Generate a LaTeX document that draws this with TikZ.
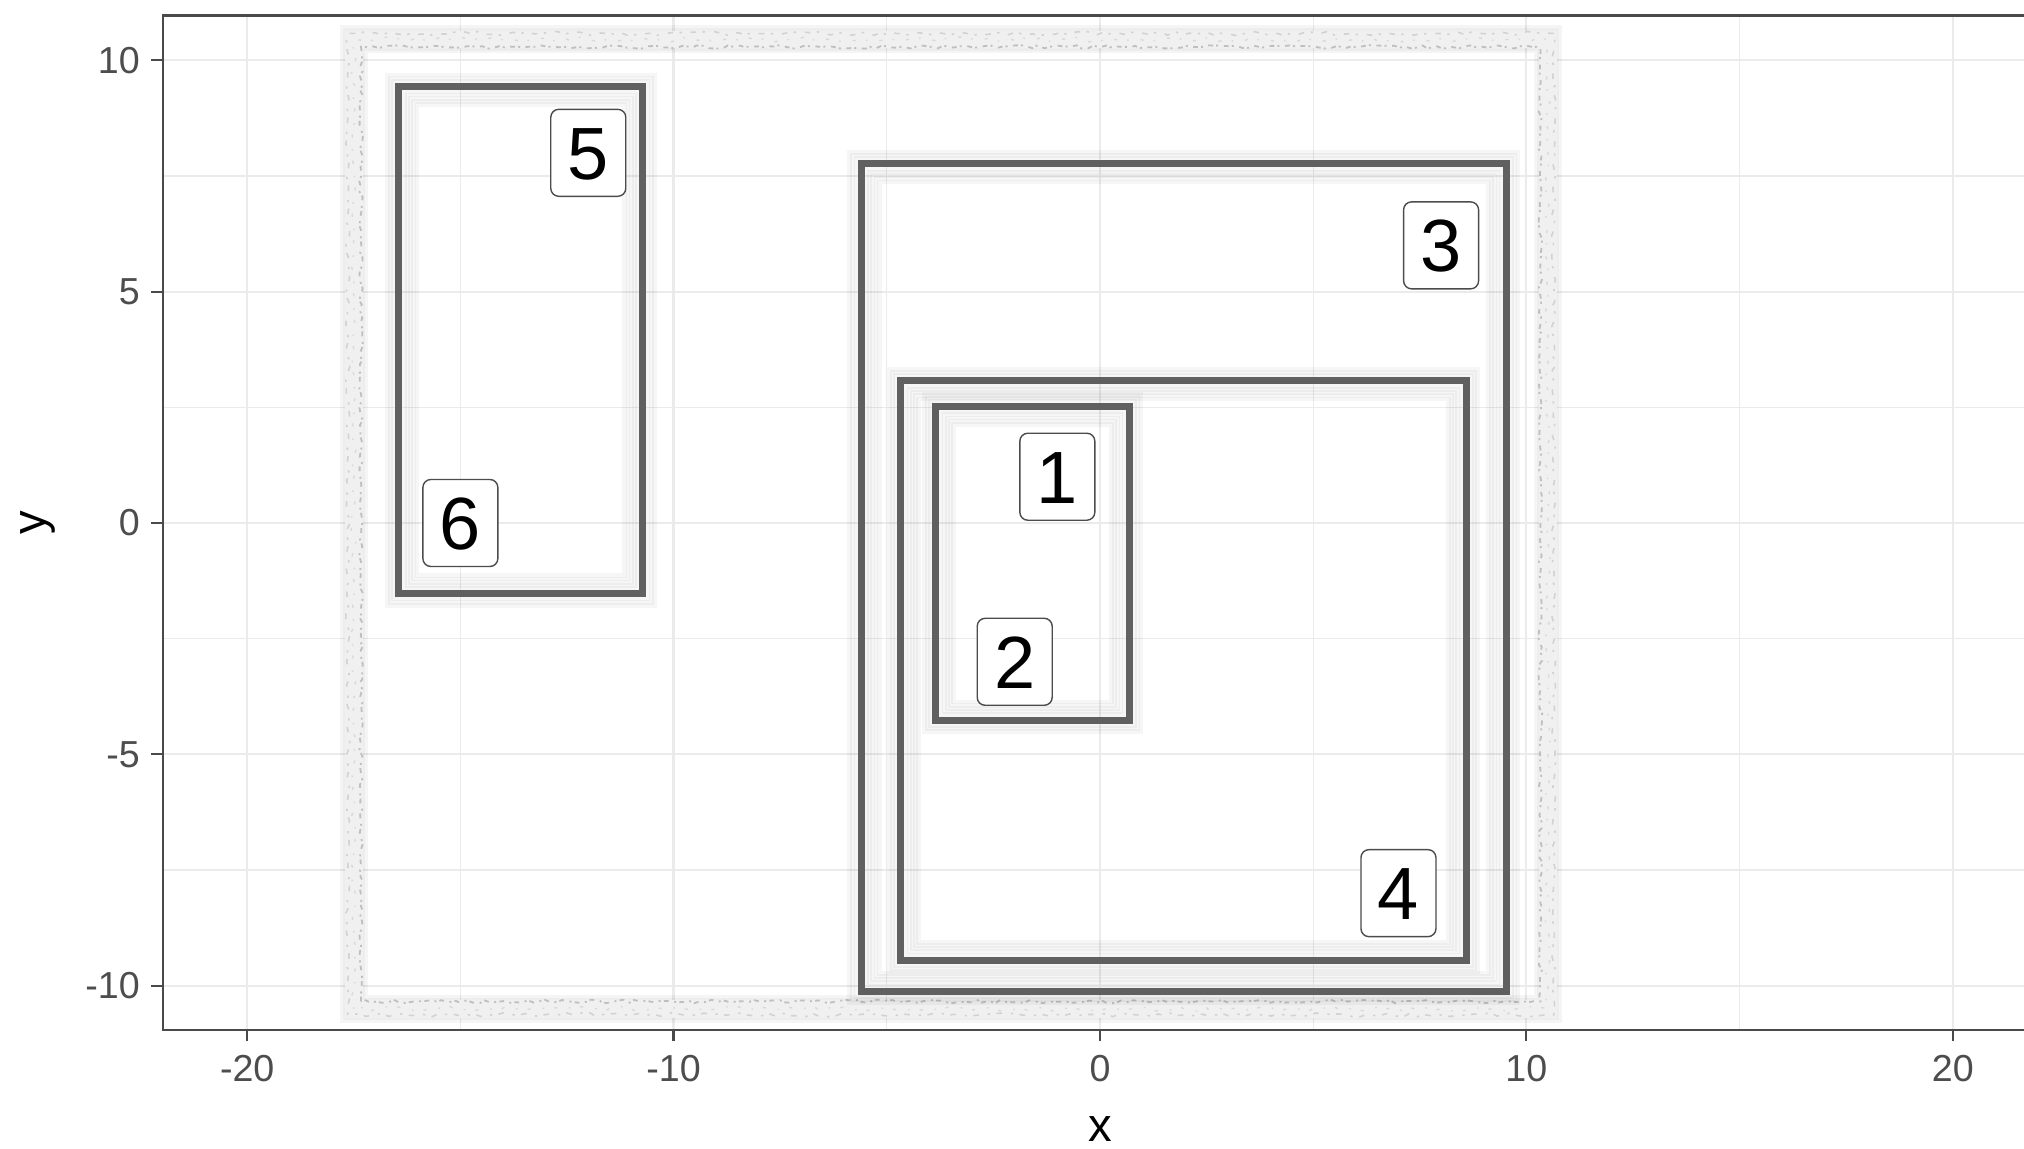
\documentclass[tikz,border=0pt]{standalone}
\usepackage{fontspec}
\setmainfont{Liberation Sans}
\usetikzlibrary{decorations.pathmorphing}
\definecolor{gridc}{HTML}{EBEBEB}
\definecolor{panelc}{HTML}{4A4A4A}
\definecolor{boxc}{HTML}{606060}
\definecolor{tickc}{HTML}{4D4D4D}
\definecolor{roughc}{HTML}{F0F0F0}
\begin{document}
\begin{tikzpicture}[x=10.66pt,y=11.5675pt,
  majorgrid/.style={draw=gridc,line width=0.55pt},
  minorgrid/.style={draw=gridc,line width=0.3pt},
  gbox/.style={draw=boxc,line width=1.75pt,line join=miter},
  gshadow/.style={draw=black,opacity=0.035,line width=1.2pt},
  lbl/.style={draw=black!70,line width=0.35pt,rounded corners=2pt,fill=white,
    font=\fontsize{18.5}{18.5}\selectfont,minimum width=18.75pt,minimum height=21.75pt,
    inner sep=0pt,text height=13.25pt,text depth=0pt},
  ticklbl/.style={text=tickc,font=\fontsize{9.4}{9.4}\selectfont,inner sep=0pt},
  axtitle/.style={text=black,font=\fontsize{11.8}{11.8}\selectfont,inner sep=0pt},
  axtick/.style={draw=panelc,line width=0.55pt}]
\useasboundingbox (-25.797,-13.529) rectangle (21.670,11.303);
\clip (-25.797,-13.529) rectangle (21.670,11.303);
\fill[white] (-25.797,-13.529) rectangle (21.670,11.303);
% grid
\foreach \gx in {-15,-5,5,15} \draw[minorgrid] (\gx,-10.96) -- (\gx,10.97);
\foreach \gy in {-7.5,-2.5,2.5,7.5} \draw[minorgrid] (-21.98,\gy) -- (21.9,\gy);
\foreach \gx in {-20,-10,0,10,20} \draw[majorgrid] (\gx,-10.96) -- (\gx,10.97);
\foreach \gy in {-10,-5,0,5,10} \draw[majorgrid] (-21.98,\gy) -- (21.9,\gy);
% rough outer frame
\draw[draw=black,opacity=0.04,line width=7pt] (-17.5,-10.5) rectangle (10.5,10.45);
\draw[draw=black,opacity=0.03,line width=5.6pt] (-17.5,-10.5) rectangle (10.5,10.45);
\draw[draw=roughc,line width=4.4pt] (-17.5,-10.5) rectangle (10.5,10.45);
\pgfmathsetseed{11}
\draw[draw=gray!50,line width=0.45pt,dash pattern=on 1.2pt off 0.8pt on 0.5pt off 1.4pt,
  decorate,decoration={random steps,segment length=1.5pt,amplitude=0.45pt}]
  (-17.33,-10.34) rectangle (10.33,10.29);
\draw[draw=gray!35,line width=0.4pt,dash pattern=on 0.6pt off 2.2pt on 1.4pt off 1.6pt,
  decorate,decoration={random steps,segment length=1.8pt,amplitude=0.5pt}]
  (-17.64,-10.63) rectangle (10.64,10.58);
\draw[draw=gray!30,line width=0.35pt,dash pattern=on 0.4pt off 3pt on 0.8pt off 2.5pt,
  decorate,decoration={random steps,segment length=2pt,amplitude=0.6pt}]
  (-17.5,-10.5) rectangle (10.5,10.45);
% shadows of boxes (soft inner glow)
\foreach \ax/\ay/\bx/\by in {-16.44/-1.53/-10.72/9.43, -5.6/-10.12/9.53/7.76, -4.67/-9.45/8.59/3.07, -3.85/-4.26/0.69/2.52}{
  \foreach \ins in {1.3,2.1,2.9,3.7,4.5}{
    \draw[gshadow] ([shift={(\ins pt,\ins pt)}]\ax,\ay) rectangle ([shift={(-\ins pt,-\ins pt)}]\bx,\by);
  }
  \foreach \ins in {1.3,2.1,2.9}{
    \draw[gshadow] ([shift={(-\ins pt,-\ins pt)}]\ax,\ay) rectangle ([shift={(\ins pt,\ins pt)}]\bx,\by);
  }
}
% boxes
\draw[gbox] (-16.44,-1.53) rectangle (-10.72,9.43);
\draw[gbox] (-5.6,-10.12) rectangle (9.53,7.76);
\draw[gbox] (-4.67,-9.45) rectangle (8.59,3.07);
\draw[gbox] (-3.85,-4.26) rectangle (0.69,2.52);
% labels
\node[lbl] (l5) at (-12,8) {5};
\node[lbl] (l3) at (8,6) {3};
\node[lbl] (l1) at (-1,1) {1};
\node[lbl] (l6) at (-15,0) {6};
\node[lbl] (l2) at (-2,-3) {2};
\node[lbl] (l4) at (7,-8) {4};
% panel border
\draw[draw=panelc,line width=0.6pt] (22.2,10.97) -- (-21.98,10.97) -- (-21.98,-10.96) -- (22.2,-10.96);
% y axis ticks and labels
\foreach \gy in {-10,-5,0,5,10}{
  \draw[axtick] (-21.98,\gy) -- (-22.26,\gy);
  \node[ticklbl,anchor=east] (yt\gy) at (-22.5,\gy) {\gy};
}
% x axis ticks and labels
\foreach \gx in {-20,-10,0,10,20}{
  \draw[axtick] (\gx,-10.96) -- (\gx,-11.2);
  \node[ticklbl] (xt\gx) at (\gx,-11.8) {\gx};
}
\node[axtitle] (xtitle) at (0,-13.1) {x};
\node[axtitle,rotate=90] (ytitle) at (-24.9,0) {y};
\end{tikzpicture}
\end{document}
